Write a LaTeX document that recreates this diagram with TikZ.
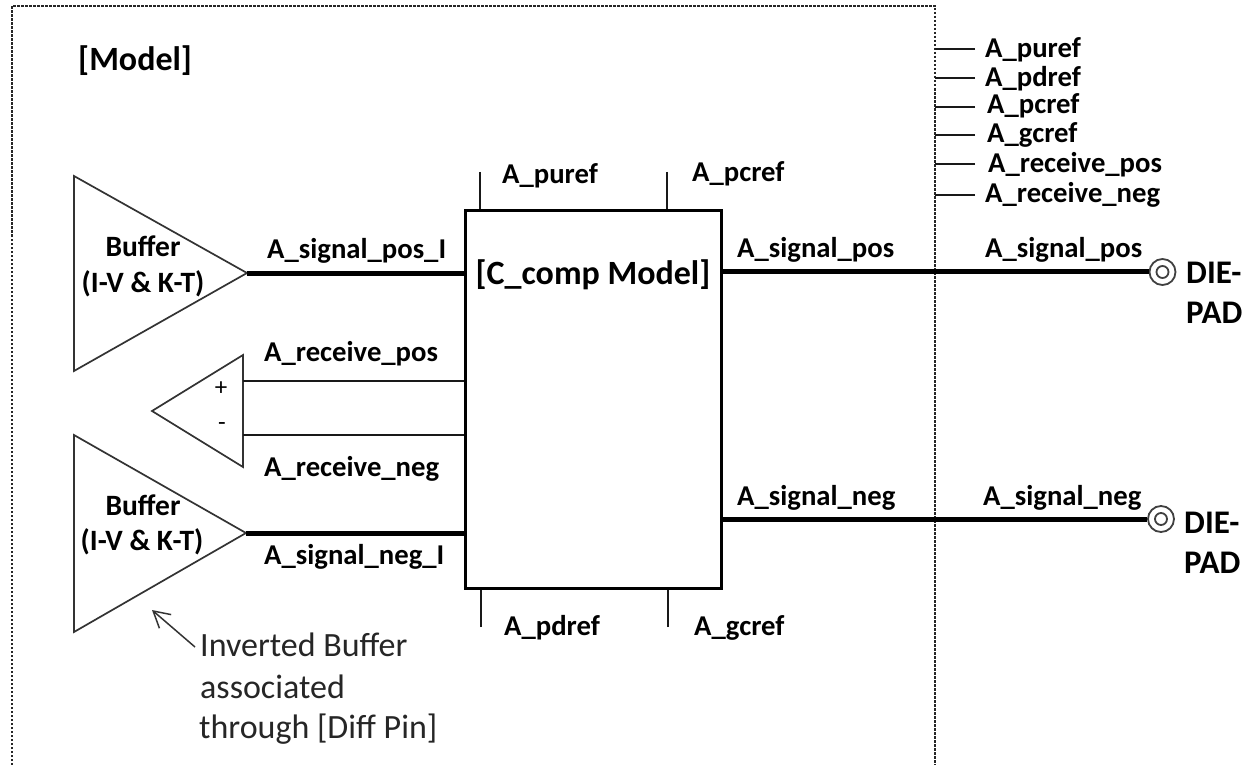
\documentclass[tikz,border=0pt]{standalone}
\usepackage{fontspec}
\setmainfont{Carlito}
\usetikzlibrary{arrows.meta}
\newcommand{\fs}[1]{\fontsize{#1}{#1}\selectfont}
\tikzset{
  x=1pt,y=-1pt,
  lbl/.style={inner sep=0pt,anchor=base west,yshift=-1pt,font=\fs{28.7}\bfseries,text=black},
  clbl/.style={lbl,anchor=base,font=\fs{29.5}\bfseries},
  big/.style={inner sep=0pt,anchor=base west,yshift=-1pt,font=\fs{34}\bfseries},
  dielbl/.style={big,font=\fs{33}\bfseries},
  note/.style={inner sep=0pt,anchor=base west,yshift=-1pt,font=\fs{34},text=black!85},
  sign/.style={inner sep=0pt,font=\fs{25}},
  ring/.style={circle,draw=black!75,line width=1.8pt,inner sep=0pt},
  thin line/.style={draw=black!90,line width=1.7pt},
  bus/.style={draw=black,line width=5pt},
  frame/.style={draw=black!85,line width=1.2pt,dash pattern=on 2.5pt off 1.5pt},
  tri/.style={draw=black!80,line width=1.7pt,line join=miter},
}
\begin{document}
\begin{tikzpicture}
\useasboundingbox (0,0) rectangle (1251,765);
\fill[white] (0,0) rectangle (1251,765);
% frame
\coordinate (fbl) at (12,765); \coordinate (ftl) at (12,6);
\coordinate (ftr) at (935,6); \coordinate (fbr) at (935,765);
\draw[frame] (fbl) -- (ftl) -- (ftr) -- (fbr);
% triangles
\coordinate (b1a) at (74,176); \coordinate (b1b) at (74,371); \coordinate (b1o) at (247,273);
\coordinate (b2a) at (74,435); \coordinate (b2b) at (74,632); \coordinate (b2o) at (246,533);
\coordinate (ra) at (243,355); \coordinate (rb) at (243,467); \coordinate (ro) at (152,411);
\draw[tri] (b1a) -- (b1o) -- (b1b) -- cycle;
\draw[tri] (b2a) -- (b2o) -- (b2b) -- cycle;
\draw[tri] (ra) -- (ro) -- (rb) -- cycle;
\coordinate (rp) at (243,381); \coordinate (rn) at (243,435);
% comp box
\node[draw=black,line width=3.6pt,minimum width=256pt,minimum height=378pt,inner sep=0pt] (comp) at (593.5,399.5) {};
% connectors
\draw[bus] (b1o) -- (b1o -| comp.west);
\draw[bus] (b2o) -- (b2o -| comp.west);
\draw[thin line] (rp) -- (rp -| comp.west);
\draw[thin line] (rn) -- (rn -| comp.west);
% pads
\node[ring,minimum size=26pt] (pad1) at (1162.5,272) {};
\node[ring,minimum size=12pt] (pad1i) at (pad1) {};
\node[ring,minimum size=26pt] (pad2) at (1161,519) {};
\node[ring,minimum size=12pt] (pad2i) at (pad2) {};
\coordinate (s1) at (721,271); \coordinate (s2) at (721,519);
\draw[bus] (s1) -- (s1 -| pad1.west);
\draw[bus] (s2) -- (pad2.west);
% stubs on the box
\coordinate (t1) at (480,172); \coordinate (t2) at (667,172);
\coordinate (d1) at (481,627); \coordinate (d2) at (668,627);
\draw[thin line] (t1) -- (t1 |- comp.north);
\draw[thin line] (t2) -- (t2 |- comp.north);
\draw[thin line] (d1) -- (d1 |- comp.south);
\draw[thin line] (d2) -- (d2 |- comp.south);
% stubs on the frame
\foreach \n/\y in {a/49,b/78,c/107,d/135,e/164,f/195}{
  \coordinate (st\n) at (975,\y);
  \draw[thin line] (st\n) -- (st\n -| ftr);
}
% labels
\node[lbl] (r1) at (985,57) {A\_puref};
\node[lbl] (r2) at (985,86) {A\_pdref};
\node[lbl] (r3) at (987,113) {A\_pcref};
\node[lbl] (r4) at (987,142) {A\_gcref};
\node[lbl] (r5) at (988,172) {A\_receive\_pos};
\node[lbl] (r6) at (985,201) {A\_receive\_neg};
\node[lbl] (r7) at (985,256) {A\_signal\_pos};
\node[lbl] (r8) at (983,504) {A\_signal\_neg};
\node[lbl] (c1) at (737,256) {A\_signal\_pos};
\node[lbl] (c2) at (737,504) {A\_signal\_neg};
\node[lbl] (l1) at (267,257) {A\_signal\_pos\_I};
\node[lbl] (l2) at (264,360) {A\_receive\_pos};
\node[lbl] (l3) at (264,475) {A\_receive\_neg};
\node[lbl] (l4) at (264,563) {A\_signal\_neg\_I};
\node[lbl] (p1) at (502,183) {A\_puref};
\node[lbl] (p2) at (692,181) {A\_pcref};
\node[lbl] (p3) at (504,634) {A\_pdref};
\node[lbl] (p4) at (694,634) {A\_gcref};
\node[clbl] (b1t) at (143,255) {Buffer};
\node[clbl] (b1u) at (143,291) {(I-V \& K-T)};
\node[clbl] (b2t) at (143,514) {Buffer};
\node[clbl] (b2u) at (142,549) {(I-V \& K-T)};
\node[sign] (plus) at (221,389) {+};
\node[sign] (minus) at (222,427) {-};
\node[big] (model) at (78,70) {[Model]};
\node[big,anchor=base] (ctitle) at (593,283) {[C\_comp Model]};
\node[dielbl] (die1) at (1186,282) {DIE-};
\node[dielbl] (pad1t) at (1186,322) {PAD};
\node[dielbl] (die2) at (1184,532) {DIE-};
\node[dielbl] (pad2t) at (1184,572) {PAD};
\node[note] (n1) at (200,655) {Inverted Buffer};
\node[note] (n2) at (200,697) {associated};
\node[note] (n3) at (199,737) {through [Diff Pin]};
\coordinate (atip) at (152,610); \coordinate (atail) at (195,647);
\draw[draw=black!80,line width=1.5pt,-{Straight Barb[length=16pt,width=18pt]}] (atail) -- (atip);
\end{tikzpicture}
\end{document}
